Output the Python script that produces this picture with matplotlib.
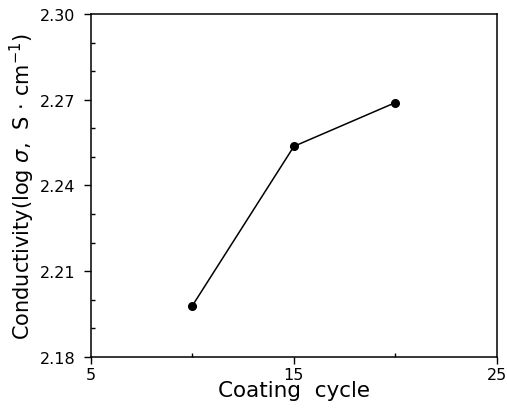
import matplotlib
matplotlib.use('Agg')
import matplotlib.pyplot as plt
from matplotlib.ticker import FixedLocator

# Data
cycles = [10, 15, 20]
conductivity = [2.198, 2.2537, 2.269]

x_ticks = [5, 15, 25]
x_minor = [10, 20]
y_ticks = [2.18, 2.21, 2.24, 2.27, 2.30]
y_minor = [2.19, 2.20, 2.22, 2.23, 2.25, 2.26, 2.28, 2.29]

fig = plt.figure(figsize=(5.07, 4.14), dpi=100)
ax = fig.add_axes([0.1795, 0.1353, 0.8005, 0.8285])

ax.plot(cycles, conductivity, color='black', linewidth=1.1,
        marker='o', markersize=5.5, markerfacecolor='black')

ax.set_xlim(5, 25)
ax.set_ylim(2.18, 2.30)
ax.xaxis.set_major_locator(FixedLocator(x_ticks))
ax.xaxis.set_minor_locator(FixedLocator(x_minor))
ax.yaxis.set_major_locator(FixedLocator(y_ticks))
ax.yaxis.set_minor_locator(FixedLocator(y_minor))
ax.set_yticklabels([f"{v:.2f}" for v in y_ticks])

ax.tick_params(which='major', direction='out', length=5, width=1,
               labelsize=11.5, pad=2)
ax.tick_params(axis='y', which='major', pad=6)
ax.tick_params(which='minor', direction='in', length=3, width=1)
for s in ax.spines.values():
    s.set_linewidth(1.1)

ax.set_xlabel('Coating  cycle', fontsize=15.5, labelpad=-1)
ax.set_ylabel(r'Conductivity(log $\sigma$,  S $\cdot$ cm$^{-1}$)', fontsize=15, labelpad=2)

plt.savefig('out.png', dpi=100)
